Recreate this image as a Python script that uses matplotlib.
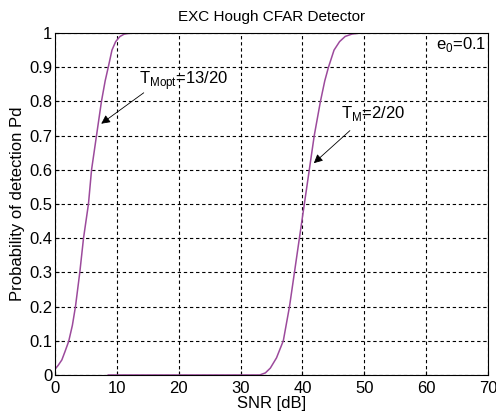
import matplotlib
matplotlib.use("Agg")
import matplotlib.pyplot as plt

plt.rcParams['font.family'] = ['Liberation Sans', 'DejaVu Sans']

# curva T_Mopt = 13/20
snr_opt = [0, 0.5, 1.1, 1.6, 2.2, 2.8, 3.3, 4.0, 4.6, 5.4, 5.9, 6.7, 7.5, 8.1, 8.6, 9.2, 9.8, 10.5, 11.2, 12.4, 20, 30, 40, 50, 60, 70]
pd_opt = [0.017, 0.028, 0.044, 0.068, 0.098, 0.145, 0.2, 0.3, 0.4, 0.5, 0.6, 0.7, 0.8, 0.86, 0.9, 0.95, 0.975, 0.99, 0.997, 1.0, 1.0, 1.0, 1.0, 1.0, 1.0, 1.0]

# curva T_M = 2/20
snr_m = [8.6, 20, 30, 33.1, 34.0, 34.8, 35.8, 36.9, 37.9, 38.7, 39.5, 40.3, 41.1, 41.9, 42.9, 43.6, 44.2, 45.1, 46.0, 46.9, 48.0, 49.3, 60, 70]
pd_m = [0.0, 0.0, 0.0, 0.0, 0.006, 0.02, 0.05, 0.1, 0.2, 0.3, 0.4, 0.5, 0.6, 0.7, 0.8, 0.86, 0.9, 0.95, 0.975, 0.99, 0.997, 1.0, 1.0, 1.0]

fig = plt.figure(figsize=(4.96, 4.18), dpi=100)
ax = fig.add_axes([0.111, 0.103, 0.873, 0.818])

colore = "#9c4a9c"
ax.plot(snr_opt, pd_opt, color=colore, lw=1.1)
ax.plot(snr_m, pd_m, color=colore, lw=1.1)

ax.set_xlim(0, 70)
ax.set_ylim(0, 1)
ax.set_xticks(range(0, 71, 10))
ax.set_yticks([i / 10 for i in range(11)])
ax.set_yticklabels(["0", "0.1", "0.2", "0.3", "0.4", "0.5", "0.6", "0.7", "0.8", "0.9", "1"])
ax.tick_params(direction="in", labelsize=12, length=3, pad=2)
ax.tick_params(axis="x", pad=4)
ax.grid(True, color="black", linestyle=(0, (3, 2.5)), linewidth=0.8)

ax.set_title("EXC Hough CFAR Detector", fontsize=11, pad=9)
ax.set_xlabel("SNR [dB]", fontsize=12, labelpad=0)
ax.set_ylabel("Probability of detection Pd", fontsize=12, labelpad=3)

ax.annotate("", xy=(7.1, 0.73), xytext=(14.7, 0.83),
            arrowprops=dict(arrowstyle="-|>", color="black", lw=0.6, mutation_scale=13))
ax.text(13.5, 0.86, r"T$_{\mathregular{Mopt}}$=13/20", fontsize=12, va="center")

ax.annotate("", xy=(41.5, 0.614), xytext=(48.0, 0.72),
            arrowprops=dict(arrowstyle="-|>", color="black", lw=0.6, mutation_scale=13))
ax.text(46.3, 0.765, r"T$_{\mathregular{M}}$=2/20", fontsize=12, va="center")

ax.text(61.6, 0.965, r"e$_{\mathregular{0}}$=0.1", fontsize=12, va="center")

fig.savefig("out.png", dpi=100)
